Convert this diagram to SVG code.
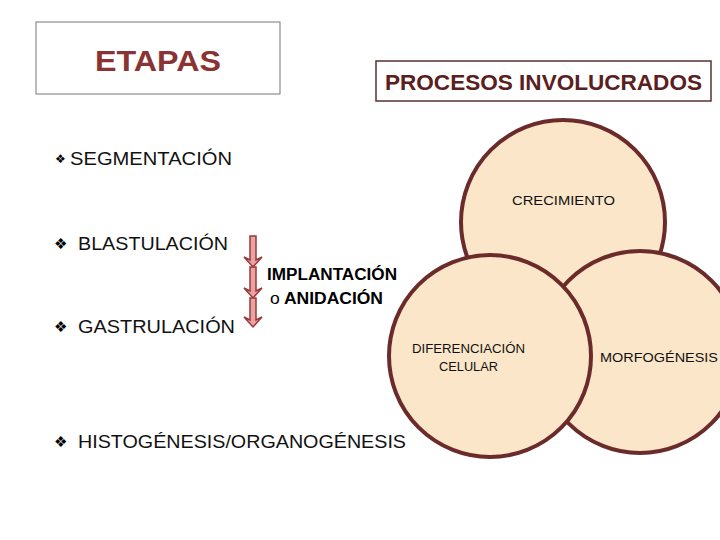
<svg xmlns="http://www.w3.org/2000/svg" width="720" height="540" viewBox="0 0 720 540">
<style>
.c{fill:#fbe6c9;stroke:#6b2b2b;stroke-width:4}
.b{font-family:"Liberation Sans",sans-serif;font-size:19px;fill:#111}
.s{font-family:"Liberation Sans",sans-serif;font-size:13px;fill:#111}
.a{fill:#eaa3a3;stroke:#9b3838;stroke-width:1.5}
</style>
<rect width="720" height="540" fill="#fff"/>
<g id="etapas"><rect x="36" y="22" width="244" height="72" fill="#fff" stroke="#777" stroke-width="1"/>
<text x="95" y="71" textLength="126" lengthAdjust="spacingAndGlyphs" font-family="Liberation Sans,sans-serif" font-size="30" font-weight="bold" fill="#8b3232">ETAPAS</text></g>
<g id="procesos"><rect x="376" y="61" width="335" height="40" fill="#fff" stroke="#5a3030" stroke-width="1.5"/>
<text x="385" y="90" textLength="317" lengthAdjust="spacingAndGlyphs" font-family="Liberation Sans,sans-serif" font-size="22" font-weight="bold" fill="#5a2020">PROCESOS INVOLUCRADOS</text></g>
<g id="crecimiento"><circle class="c" cx="563" cy="222" r="102"/><text class="s" x="512" y="205" textLength="103" lengthAdjust="spacingAndGlyphs">CRECIMIENTO</text></g>
<g id="morfogenesis"><circle class="c" cx="640" cy="352" r="101"/><text class="s" x="600" y="362" font-size="14" textLength="118" lengthAdjust="spacingAndGlyphs">MORFOGÉNESIS</text></g>
<g id="diferenciacion"><circle class="c" cx="490" cy="356" r="101"/><text class="s" x="412" y="353" textLength="113" lengthAdjust="spacingAndGlyphs">DIFERENCIACIÓN</text><text class="s" x="439" y="371" textLength="59" lengthAdjust="spacingAndGlyphs">CELULAR</text></g>
<g id="etapas-list">
<text x="55" y="163" font-size="12" font-family="DejaVu Sans,sans-serif">❖</text><text class="b" x="70" y="165" textLength="162" lengthAdjust="spacingAndGlyphs">SEGMENTACIÓN</text>
<text x="54" y="249" font-size="15" font-family="DejaVu Sans,sans-serif">❖</text><text class="b" x="78" y="250" textLength="150" lengthAdjust="spacingAndGlyphs">BLASTULACIÓN</text>
<text x="54" y="332" font-size="15" font-family="DejaVu Sans,sans-serif">❖</text><text class="b" x="78" y="333" textLength="157" lengthAdjust="spacingAndGlyphs">GASTRULACIÓN</text>
<text x="54" y="447" font-size="15" font-family="DejaVu Sans,sans-serif">❖</text><text class="b" x="78" y="448" textLength="328" lengthAdjust="spacingAndGlyphs">HISTOGÉNESIS/ORGANOGÉNESIS</text>
</g>
<g id="connectors">
<path class="a" d="M250 236h6v24l6-3-9 10-9-10 6 3z"/>
<path class="a" d="M250 267h6v24l6-3-9 10-9-10 6 3z"/>
<path class="a" d="M250 298h6v22l6-3-9 10-9-10 6 3z"/>
</g>
<g id="implantacion"><text font-family="Liberation Sans,sans-serif" font-size="16" font-weight="bold" x="267" y="280" textLength="130" lengthAdjust="spacingAndGlyphs">IMPLANTACIÓN</text>
<text font-family="Liberation Sans,sans-serif" font-size="16" x="270" y="304" textLength="113" lengthAdjust="spacingAndGlyphs"><tspan>o</tspan><tspan font-weight="bold"> ANIDACIÓN</tspan></text></g>
</svg>
